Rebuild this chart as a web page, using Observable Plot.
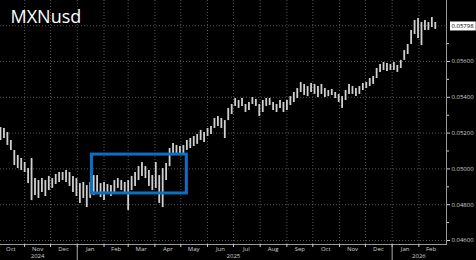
<!DOCTYPE html>
<html><head><meta charset="utf-8">
<script src="https://cdn.jsdelivr.net/npm/d3@7"></script>
<script src="https://cdn.jsdelivr.net/npm/@observablehq/plot@0.6"></script>
<style>html,body{margin:0;padding:0;background:#000;} #chart{width:476px;height:260px;overflow:hidden}</style>
</head><body><div id="chart"></div>
<script>
const title = "MXNusd";
const dates = ["2024-10-04","2024-10-08","2024-10-12","2024-10-16","2024-10-20","2024-10-24","2024-10-28","2024-11-01","2024-11-05","2024-11-09",
"2024-11-13","2024-11-17","2024-11-21","2024-11-25","2024-11-29","2024-12-03","2024-12-07","2024-12-11","2024-12-15","2024-12-19",
"2024-12-23","2024-12-27","2024-12-31","2025-01-04","2025-01-08","2025-01-12","2025-01-16","2025-01-20","2025-01-24","2025-01-28",
"2025-02-01","2025-02-05","2025-02-09","2025-02-13","2025-02-17","2025-02-21","2025-02-25","2025-03-01","2025-03-05","2025-03-09",
"2025-03-13","2025-03-17","2025-03-21","2025-03-25","2025-03-29","2025-04-02","2025-04-06","2025-04-10","2025-04-14","2025-04-18",
"2025-04-22","2025-04-26","2025-04-30","2025-05-04","2025-05-08","2025-05-12","2025-05-16","2025-05-20","2025-05-24","2025-05-28",
"2025-06-01","2025-06-05","2025-06-09","2025-06-13","2025-06-17","2025-06-21","2025-06-25","2025-06-29","2025-07-03","2025-07-07",
"2025-07-11","2025-07-15","2025-07-19","2025-07-23","2025-07-27","2025-07-31","2025-08-04","2025-08-08","2025-08-12","2025-08-16",
"2025-08-20","2025-08-24","2025-08-28","2025-09-01","2025-09-05","2025-09-09","2025-09-13","2025-09-17","2025-09-21","2025-09-25",
"2025-09-29","2025-10-03","2025-10-07","2025-10-11","2025-10-15","2025-10-19","2025-10-23","2025-10-27","2025-10-31","2025-11-04",
"2025-11-08","2025-11-12","2025-11-16","2025-11-20","2025-11-24","2025-11-28","2025-12-02","2025-12-06","2025-12-10","2025-12-14",
"2025-12-18","2025-12-22","2025-12-26","2025-12-30","2026-01-03","2026-01-07","2026-01-11","2026-01-15","2026-01-19","2026-01-23",
"2026-01-27","2026-01-31","2026-02-04","2026-02-08","2026-02-12","2026-02-16","2026-02-20"];
const highs = [0.05231,0.05226,0.05203,0.05159,0.05103,0.05075,0.05058,0.05036,0.05002,0.05058,
0.04946,0.04935,0.04946,0.04935,0.04958,0.04946,0.04969,0.04980,0.04980,0.04991,
0.04980,0.04958,0.04946,0.04918,0.04924,0.04907,0.04924,0.04963,0.04963,0.04918,
0.04924,0.04913,0.04907,0.04935,0.04946,0.04935,0.04924,0.04935,0.04958,0.04980,
0.05013,0.05036,0.05013,0.04991,0.04963,0.05036,0.04963,0.05002,0.05030,0.05114,
0.05142,0.05131,0.05125,0.05131,0.05159,0.05170,0.05181,0.05192,0.05215,0.05203,
0.05226,0.05237,0.05282,0.05293,0.05282,0.05270,0.05338,0.05360,0.05393,0.05382,
0.05393,0.05360,0.05371,0.05399,0.05388,0.05360,0.05382,0.05393,0.05393,0.05371,
0.05360,0.05382,0.05371,0.05382,0.05404,0.05427,0.05449,0.05483,0.05472,0.05460,
0.05477,0.05472,0.05460,0.05472,0.05449,0.05438,0.05444,0.05427,0.05416,0.05404,
0.05438,0.05472,0.05460,0.05449,0.05460,0.05477,0.05483,0.05505,0.05516,0.05561,
0.05583,0.05594,0.05589,0.05583,0.05594,0.05578,0.05606,0.05661,0.05695,0.05773,
0.05829,0.05840,0.05818,0.05829,0.05818,0.05846,0.05818];
const lows = [0.05159,0.05170,0.05131,0.05103,0.05019,0.05002,0.04991,0.04980,0.04918,0.04823,
0.04851,0.04835,0.04868,0.04846,0.04879,0.04891,0.04913,0.04924,0.04935,0.04924,
0.04902,0.04868,0.04846,0.04807,0.04835,0.04784,0.04835,0.04851,0.04868,0.04840,
0.04823,0.04857,0.04846,0.04868,0.04891,0.04879,0.04868,0.04768,0.04879,0.04902,
0.04935,0.04958,0.04946,0.04902,0.04879,0.04891,0.04807,0.04784,0.04935,0.05013,
0.05075,0.05086,0.05075,0.05086,0.05103,0.05114,0.05125,0.05137,0.05159,0.05148,
0.05181,0.05192,0.05226,0.05237,0.05226,0.05170,0.05270,0.05304,0.05349,0.05338,
0.05349,0.05315,0.05326,0.05360,0.05349,0.05293,0.05315,0.05349,0.05354,0.05326,
0.05315,0.05338,0.05315,0.05326,0.05354,0.05371,0.05393,0.05427,0.05410,0.05404,
0.05427,0.05416,0.05399,0.05416,0.05399,0.05404,0.05410,0.05393,0.05371,0.05338,
0.05382,0.05416,0.05416,0.05404,0.05416,0.05438,0.05449,0.05460,0.05472,0.05505,
0.05539,0.05550,0.05544,0.05550,0.05550,0.05539,0.05561,0.05606,0.05639,0.05695,
0.05751,0.05729,0.05689,0.05773,0.05773,0.05790,0.05779];
const lastValue = 0.05798;
const monthStarts = ["2024-11-01","2024-12-01","2025-01-01","2025-02-01","2025-03-01","2025-04-01","2025-05-01","2025-06-01",
"2025-07-01","2025-08-01","2025-09-01","2025-10-01","2025-11-01","2025-12-01","2026-01-01","2026-02-01"];
const monthLabels = ["Oct","Nov","Dec","Jan","Feb","Mar","Apr","May","Jun","Jul","Aug","Sep","Oct","Nov","Dec","Jan","Feb"];
const monthMids = ["2024-10-16","2024-11-16","2024-12-16","2025-01-16","2025-02-15","2025-03-16","2025-04-16","2025-05-16","2025-06-16",
"2025-07-16","2025-08-16","2025-09-16","2025-10-16","2025-11-16","2025-12-16","2026-01-16","2026-02-15"];
const yearLabels = ["2024","2025","2026"];
const yearLabelDates = ["2024-11-16","2025-07-01","2026-02-01"];
const yearStarts = ["2025-01-01","2026-01-01"];
const gridValues = [0.046,0.048,0.050,0.052,0.054,0.056,0.058];
const tickValues = [0.046,0.048,0.050,0.052,0.054,0.056];
const minorTicks = [0.047,0.049,0.051,0.053,0.055,0.057];
const boxDates = ["2025-01-18","2025-05-08"];
const boxValues = [0.04863,0.05080];

const P = d3.isoParse;
const bars = dates.map((d,i)=>({date:P(d), lo:lows[i], hi:highs[i]}));
const box = [{x1:P(boxDates[0]), x2:P(boxDates[1]), y1:boxValues[0], y2:boxValues[1]}];
const grid = "#555";
const chart = Plot.plot({
  width: 476, height: 260,
  marginLeft: 0, marginRight: 30, marginTop: 0, marginBottom: 16,
  style: {background:"#000", color:"#d0d0d0", fontFamily:"'Open Sans', sans-serif", fontSize:"6px", overflow:"visible"},
  x: {type:"utc", domain:[P("2024-10-04"), P("2026-03-05")], axis:null},
  y: {domain:[0.045777, 0.059408], axis:null},
  marks: [
    Plot.ruleY(gridValues, {stroke:grid, strokeDasharray:"1,2"}),
    Plot.ruleX(monthStarts.map(P), {stroke:grid, strokeDasharray:"1,2"}),
    Plot.ruleX(bars, {x:"date", y1:"lo", y2:"hi", stroke:"#d0d0d0", strokeWidth:1.8}),
    Plot.rect(box, {x1:"x1", x2:"x2", y1:"y1", y2:"y2", stroke:"#0a70c4", strokeWidth:3, fill:"none"}),
    Plot.frame({anchor:"bottom", stroke:"#9a9a9a"}),
    Plot.frame({anchor:"right", stroke:"#9a9a9a"}),
    Plot.axisX({ticks:monthStarts.map(P), tickSize:3, tickFormat:()=>"", label:null, stroke:"#ccc"}),
    Plot.axisX({ticks:yearStarts.map(P), tickSize:16, tickFormat:()=>"", label:null, stroke:"#aaa"}),
    Plot.axisY({anchor:"right", ticks:tickValues, tickSize:3, tickPadding:2, tickFormat:d3.format(".5f"), label:null, stroke:"#ccc", fill:"#cfcfcf", fontSize:6}),
    Plot.axisY({anchor:"right", ticks:minorTicks, tickSize:2, tickFormat:()=>"", label:null, stroke:"#ccc"}),
    Plot.text(monthLabels, {x:monthMids.map(P), text:d=>d, frameAnchor:"bottom", dy:5, lineAnchor:"middle", fill:"#d0d0d0", fontSize:6}),
    Plot.text(yearLabels, {x:yearLabelDates.map(P), text:d=>d, frameAnchor:"bottom", dy:12, lineAnchor:"middle", fill:"#d0d0d0", fontSize:6}),
    Plot.text([lastValue], {y:d=>d, text:d=>d3.format(".5f")(d), frameAnchor:"right", dx:5, textAnchor:"start", fill:"#000", fontSize:6}),
    Plot.text([title], {text:d=>d, frameAnchor:"top-left", dx:10, dy:10, textAnchor:"start", lineAnchor:"top", fill:"#fff", fontSize:18, fontFamily:"'Open Sans', sans-serif"})
  ]
});
document.getElementById("chart").append(chart);
const lbl = d3.format(".5f")(lastValue);
chart.querySelectorAll("text").forEach(t=>{
  if (t.textContent === lbl) {
    const b = t.getBBox();
    const r = document.createElementNS("http://www.w3.org/2000/svg","rect");
    r.setAttribute("x", b.x-1.5); r.setAttribute("y", b.y-0.5);
    r.setAttribute("width", b.width+3); r.setAttribute("height", b.height+1);
    r.setAttribute("fill", "#fff");
    const tr = t.getAttribute("transform");
    if (tr) r.setAttribute("transform", tr);
    t.parentNode.insertBefore(r, t);
  }
});
</script></body></html>
